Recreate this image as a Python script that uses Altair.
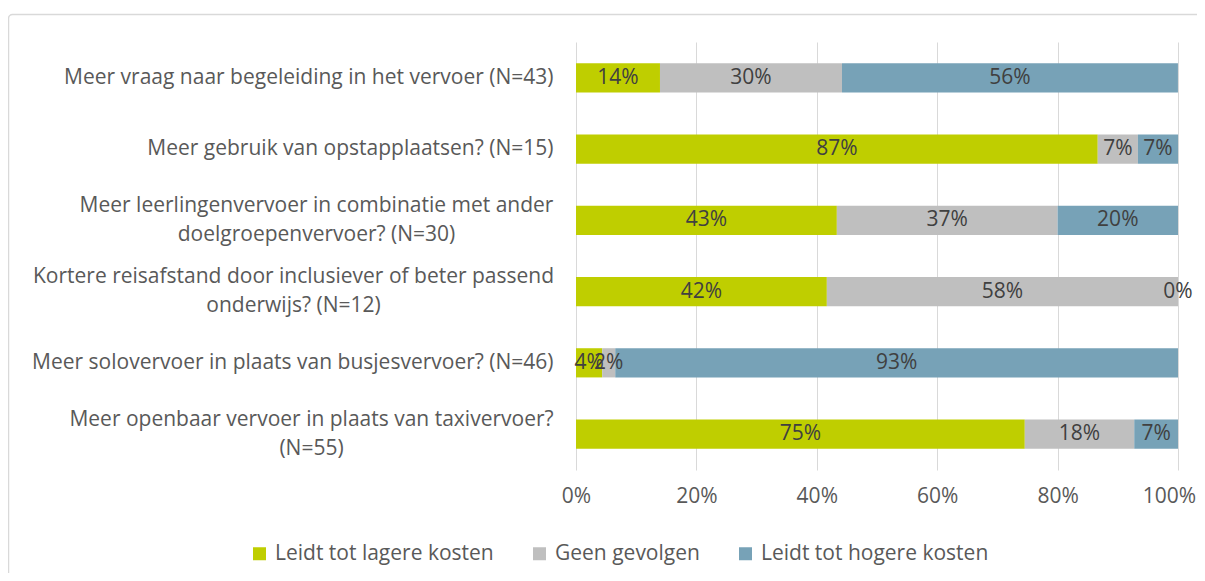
import altair as alt
import pandas as pd

categories = [
    "Meer vraag naar begeleiding in het vervoer (N=43)",
    "Meer gebruik van opstapplaatsen? (N=15)",
    "Meer leerlingenvervoer in combinatie met ander\ndoelgroepenvervoer? (N=30)",
    "Kortere reisafstand door inclusiever of beter passend\nonderwijs? (N=12)",
    "Meer solovervoer in plaats van busjesvervoer? (N=46)",
    "Meer openbaar vervoer in plaats van taxivervoer?\n(N=55)",
]
series = ["Leidt tot lagere kosten", "Geen gevolgen", "Leidt tot hogere kosten"]
lagere = [13.95, 86.67, 43.33, 41.67, 4.35, 74.55]
geen = [30.23, 6.67, 36.67, 58.33, 2.17, 18.18]
hogere = [55.81, 6.67, 20.00, 0.00, 93.48, 7.27]
colors = ["#BFCE00", "#BFBFBF", "#77A2B7"]
x_ticks = [0, 0.2, 0.4, 0.6, 0.8, 1.0]

rows = []
for i, c in enumerate(categories):
    for j, (s, vals) in enumerate(zip(series, [lagere, geen, hogere])):
        rows.append({"cat": c, "series": s, "order": j, "value": vals[i] / 100.0})
df = pd.DataFrame(rows)

FONT = "Open Sans"
FS = 21
LABEL_COLOR = "#595959"

base = alt.Chart(df).transform_stack(
    stack="value", groupby=["cat"], as_=["x0", "x1"],
    sort=[alt.SortField("order", order="ascending")],
).transform_calculate(mid="(datum.x0 + datum.x1) / 2")

multi = "indexof(datum.value, '\\n') >= 0"

y_enc = alt.Y(
    "cat:N", sort=categories, title=None,
    scale=alt.Scale(paddingInner=0.59, paddingOuter=0.3),
    axis=alt.Axis(
        domain=False, ticks=False, grid=False,
        labelExpr="split(datum.value, '\\n')",
        labelFont=FONT, labelFontSize=FS, labelColor=LABEL_COLOR,
        labelLineHeight=29, labelLimit=0,
        labelAlign={"condition": {"test": multi, "value": "center"}, "value": "right"},
        labelOffset={"condition": {"test": multi, "value": -14.5}, "value": 0},
        labelPadding={"condition": [
            {"test": "indexof(datum.value, 'leerlingenvervoer') >= 0", "value": 260},
            {"test": "indexof(datum.value, 'Kortere') >= 0", "value": 283},
            {"test": "indexof(datum.value, 'openbaar') >= 0", "value": 265},
        ], "value": 23},
    ),
)

bars = base.mark_bar().encode(
    x=alt.X("x0:Q", scale=alt.Scale(domain=[0, 1], nice=False), title=None,
            axis=alt.Axis(values=x_ticks, format=".0%", domain=False, ticks=False,
                          grid=True, gridColor="#D9D9D9", gridWidth=1,
                          labelFlush=False,
                          labelOffset={"condition": {"test": "datum.value >= 1", "value": -9}, "value": 0},
                          labelFont=FONT, labelFontSize=FS, labelColor=LABEL_COLOR,
                          labelPadding=15)),
    x2="x1:Q",
    y=y_enc,
    color=alt.Color("series:N", sort=series,
                    scale=alt.Scale(domain=series, range=colors),
                    legend=alt.Legend(title=None, orient="none", direction="horizontal",
                                      legendX=-327, legendY=501,
                                      symbolType="square", symbolSize=169,
                                      symbolStrokeWidth=0, labelLimit=0,
                                      labelFont=FONT, labelFontSize=FS,
                                      labelColor=LABEL_COLOR, columnPadding=35,
                                      labelOffset=5)),
    order=alt.Order("order:Q"),
)

texts = base.mark_text(font=FONT, fontSize=FS, color="#404040").encode(
    x="mid:Q",
    y=alt.Y("cat:N", sort=categories),
    text=alt.Text("value:Q", format=".0%"),
)

frame = alt.Chart(pd.DataFrame({"a": [0]})).mark_rect(
    fill=None, stroke="#D9D9D9", strokeWidth=1.5, cornerRadius=4
).encode(
    x=alt.value(-567.5), x2=alt.value(700), y=alt.value(-27.5), y2=alt.value(700)
)

chart = alt.layer(frame, bars, texts).properties(
    width=602, height=428,
    autosize=alt.AutoSizeParams(type="none"),
    padding={"left": 568, "top": 34, "right": 19, "bottom": 103},
).configure_view(stroke=None)

chart.save("out.html", embed_options={"renderer": "svg", "actions": False})
